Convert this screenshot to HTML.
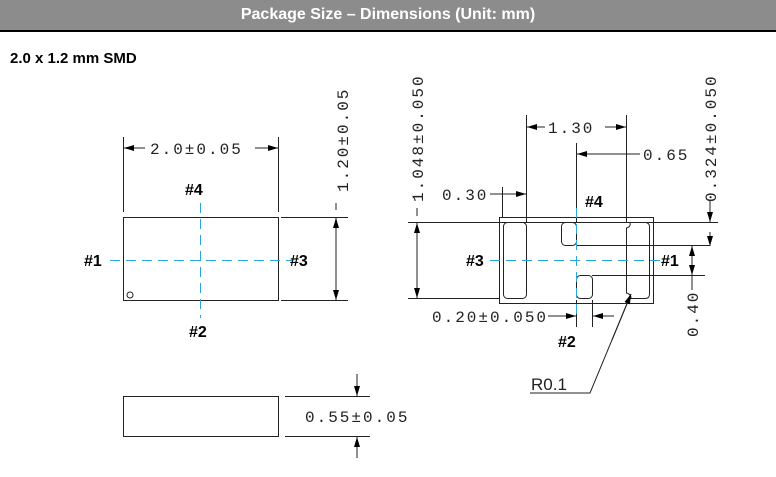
<!DOCTYPE html>
<html><head><meta charset="utf-8"><style>
html,body{margin:0;padding:0;background:#fff;}
body{width:776px;height:477px;overflow:hidden;position:relative;}
.hdr{position:absolute;left:0;top:0;width:776px;height:30px;background:#8c8c8c;border-bottom:2px solid #000;color:#fff;font:bold 16px "Liberation Sans",sans-serif;text-align:center;line-height:30px;}
.sub{position:absolute;left:10px;top:50px;font:bold 15px "Liberation Sans",sans-serif;}
svg{position:absolute;left:0;top:0;}
.d{font-family:"Liberation Mono",monospace;font-size:16px;letter-spacing:2px;fill:#222;}
.p{font-family:"Liberation Sans",sans-serif;font-weight:bold;font-size:16px;fill:#000;}
</style></head><body>
<div class="hdr">Package Size – Dimensions (Unit: mm)</div>
<div class="sub">2.0 x 1.2 mm SMD</div>
<svg width="776" height="477" viewBox="0 0 776 477">
<defs>
<marker id="a" markerWidth="10" markerHeight="6" refX="10" refY="3" orient="auto" markerUnits="userSpaceOnUse"><path d="M0,0 L10,3 L0,6z" fill="#000"/></marker>
</defs>
<g stroke="#222" stroke-width="1" fill="none">
<rect x="123.5" y="217.5" width="155" height="83"/>
<circle cx="130" cy="295" r="3"/>
<line x1="123.5" y1="137" x2="123.5" y2="212"/>
<line x1="278.5" y1="137" x2="278.5" y2="212"/>
<line x1="145" y1="148" x2="124" y2="148" marker-end="url(#a)"/>
<line x1="255" y1="148" x2="278" y2="148" marker-end="url(#a)"/>
<line x1="281" y1="217.5" x2="348" y2="217.5"/>
<line x1="281" y1="300.5" x2="348" y2="300.5"/>
<line x1="336" y1="260" x2="336" y2="218" marker-end="url(#a)"/>
<line x1="336" y1="260" x2="336" y2="300" marker-end="url(#a)"/>
<line x1="336" y1="203" x2="336" y2="210"/>
<rect x="123.5" y="396.5" width="155" height="40"/>
<line x1="285" y1="396.5" x2="370" y2="396.5"/>
<line x1="285" y1="436.5" x2="370" y2="436.5"/>
<line x1="357" y1="374" x2="357" y2="396" marker-end="url(#a)"/>
<line x1="357" y1="458" x2="357" y2="437" marker-end="url(#a)"/>
<rect x="499.5" y="217.5" width="154" height="86"/>
<rect x="503.5" y="222.5" width="23" height="76" rx="4"/>
<rect x="561.5" y="222.5" width="15" height="23" rx="4"/>
<rect x="576.5" y="275.5" width="16" height="23" rx="4"/>
<path d="M630,222.5 H645 Q649.5,222.5 649.5,227 V294 Q649.5,298.5 645,298.5 H631 Q631,294 626.5,293 V228 Q631,227 630,222.5 Z"/>
<line x1="408" y1="222.5" x2="718" y2="222.5"/>
<line x1="408" y1="298.5" x2="499" y2="298.5"/>
<line x1="576" y1="245.5" x2="710" y2="245.5"/>
<line x1="592" y1="275.5" x2="705" y2="275.5"/>
<line x1="417" y1="260" x2="417" y2="223" marker-end="url(#a)"/>
<line x1="417" y1="260" x2="417" y2="298" marker-end="url(#a)"/>
<line x1="417" y1="208" x2="417" y2="216"/>
<line x1="526.5" y1="115" x2="526.5" y2="222"/>
<line x1="626.5" y1="115" x2="626.5" y2="222"/>
<line x1="545" y1="127" x2="527" y2="127" marker-end="url(#a)"/>
<line x1="605" y1="127" x2="626" y2="127" marker-end="url(#a)"/>
<line x1="576.5" y1="143" x2="576.5" y2="222"/>
<line x1="620" y1="154" x2="577" y2="154" marker-end="url(#a)"/>
<line x1="600" y1="154" x2="640" y2="154"/>
<line x1="502.5" y1="187" x2="502.5" y2="217"/>
<line x1="490" y1="194" x2="526" y2="194" marker-end="url(#a)"/>
<line x1="710" y1="200" x2="710" y2="222" marker-end="url(#a)"/>
<line x1="710" y1="232" x2="710" y2="246" marker-end="url(#a)"/>
<line x1="692" y1="262" x2="692" y2="246" marker-end="url(#a)"/>
<line x1="692" y1="262" x2="692" y2="275" marker-end="url(#a)"/>
<line x1="692" y1="276" x2="692" y2="290"/>
<line x1="576.5" y1="300" x2="576.5" y2="327"/>
<line x1="592.5" y1="300" x2="592.5" y2="327"/>
<line x1="548" y1="316" x2="576" y2="316" marker-end="url(#a)"/>
<line x1="614" y1="316" x2="593" y2="316" marker-end="url(#a)"/>
<polyline points="530,393 590,393 631,294" />
<line x1="612" y1="340" x2="631" y2="294" marker-end="url(#a)"/>
</g>
<g stroke="#29a8d8" stroke-width="1" stroke-dasharray="10,6" fill="none">
<line x1="110" y1="260.5" x2="292" y2="260.5"/>
<line x1="200.5" y1="203" x2="200.5" y2="318"/>
<line x1="490" y1="260.5" x2="660" y2="260.5"/>
<line x1="576.5" y1="208" x2="576.5" y2="318"/>
</g>
<text class="d" x="150" y="154">2.0±0.05</text>
<text class="d" transform="translate(348,192) rotate(-90)">1.20±0.05</text>
<text class="d" x="305" y="422">0.55±0.05</text>
<text class="d" transform="translate(423,202) rotate(-90)">1.048±0.050</text>
<text class="d" x="548" y="133">1.30</text>
<text class="d" x="643" y="160">0.65</text>
<text class="d" x="442" y="200">0.30</text>
<text class="d" transform="translate(716,202) rotate(-90)">0.324±0.050</text>
<text class="d" transform="translate(698,337) rotate(-90)">0.40</text>
<text class="d" x="432" y="322">0.20±0.050</text>
<text x="531" y="390" style="font:17px 'Liberation Sans',sans-serif;fill:#222">R0.1</text>
<text class="p" x="185" y="195">#4</text>
<text class="p" x="84" y="266">#1</text>
<text class="p" x="290" y="266">#3</text>
<text class="p" x="189" y="337">#2</text>
<text class="p" x="585" y="207">#4</text>
<text class="p" x="466" y="266">#3</text>
<text class="p" x="661" y="266">#1</text>
<text class="p" x="558" y="347">#2</text>
</svg>
</body></html>
